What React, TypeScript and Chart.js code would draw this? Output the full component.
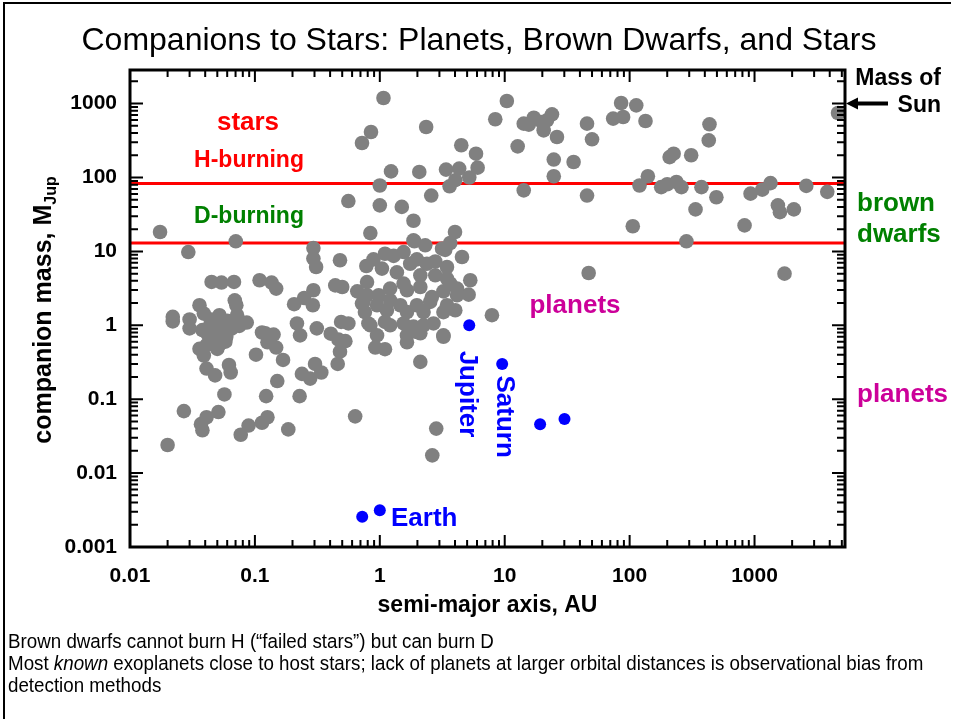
import React, { useEffect, useRef } from "react";
import { Chart, registerables } from "chart.js";

Chart.register(...registerables);

const FONT = '"Liberation Sans", Arial, Helvetica, sans-serif';

// Known companions: semi-major axis (AU) and mass (Jupiter masses)
const companionAU = [
  1.07, 0.85, 0.72, 2.35, 4.49, 5.89, 1.23, 2.07, 3.39, 4.32, 6.07, 5.2, 3.62, 4.02, 1.0, 2.58, 1.0, 1.5, 1.86, 0.84,
  1.86, 4.0, 3.66, 2.31, 3.15, 4.55, 10.4, 8.4, 12.7, 14.2, 15.6, 17.1, 19.9, 23.9, 21.8, 20.5, 26.2, 24.7, 24.7, 35.6,
  14.2, 45.6, 50, 45.6, 47, 85.5, 113, 73.8, 88.7, 134, 436, 430, 209, 225, 311, 140, 120, 179, 200, 237,
  260, 376, 495, 337, 106, 285, 929, 1153, 1343, 832, 1538, 1597, 2065, 2596, 3823, 1738, 4660, 0.56, 0.0174, 0.0293,
  0.0703, 0.294, 0.294, 0.309, 0.045, 0.054, 0.068, 0.109, 0.136, 0.148, 0.294, 0.248, 0.206, 0.291, 0.069, 0.071, 0.036, 0.039, 0.052, 0.022,
  0.022, 0.03, 0.03, 0.072, 0.072, 0.086, 0.075, 0.044, 0.048, 0.038, 0.059, 0.114, 0.141, 0.217, 0.23, 0.313, 0.036, 0.041, 0.05, 0.039,
  0.041, 0.048, 0.062, 0.064, 0.057, 0.102, 0.121, 0.126, 0.148, 0.168, 0.151, 0.123, 0.238, 0.277, 0.303, 0.228, 0.027, 0.041, 0.037, 0.038,
  0.051, 0.089, 0.077, 0.114, 0.126, 0.185, 0.02, 0.635, 0.045, 0.05, 0.055, 0.042, 0.048, 0.06, 0.065, 0.052, 0.044, 0.058, 0.405, 0.467,
  0.53, 0.49, 0.56, 0.48, 0.46, 0.34, 0.81, 0.72, 0.79, 0.48, 0.44, 0.5, 0.66, 0.78, 0.89, 1.04, 1.1, 1.29, 1.55, 1.37,
  1.75, 1.98, 1.89, 2.38, 2.78, 3.45, 3.34, 2.11, 2.78, 3.45, 3.67, 5.3, 5.14, 4.15, 4.15, 3.23, 2.61, 2.11, 1.65, 1.55,
  1.21, 0.98, 0.79, 0.74, 0.76, 0.95, 1.14, 1.1, 1.21, 1.46, 1.65, 1.98, 2.24, 2.53, 3.23, 3.45, 4.02, 0.84, 1.21, 1.55,
  1.86, 2.24, 2.69, 3.23, 0.95, 1.65, 1.98, 0.92, 1.1, 1.65, 2.11, 3.23, 2.11, 2.83, 2.63, 7.9,
];
const companionMass = [
  1190, 413, 293, 482, 273, 210, 121, 119, 128, 132, 136, 100, 76, 92, 78, 57, 42, 40, 26, 17.7,
  14.1, 18.3, 13, 12.1, 10.9, 8.4, 1085, 614, 264, 536, 520, 645, 564, 716, 594, 435, 353, 175, 104, 162,
  67, 536, 329, 57, 5.1, 1019, 948, 627, 659, 582, 525, 318, 189, 210, 200, 104, 78, 74, 81, 87,
  74, 74, 54, 37, 21.9, 13.7, 60.5, 68.5, 84, 22.5, 42, 34, 37, 77, 64, 5.0, 747, 48, 18.3, 9.8,
  13.7, 11.1, 8.0, 6.15, 3.86, 3.79, 3.86, 4.07, 3.79, 3.14, 2.98, 2.34, 1.93, 1.87, 2.18, 1.87, 1.87, 1.44, 1.37, 1.3,
  1.13, 1.2, 0.91, 1.37, 1.06, 1.09, 0.98, 1.04, 0.91, 0.86, 0.7, 0.8, 0.75, 1.06, 0.73, 0.91, 0.48, 0.54, 0.48, 0.39,
  0.26, 0.21, 0.29, 0.23, 0.116, 0.4, 0.78, 0.59, 0.5, 0.34, 0.176, 0.11, 0.22, 0.19, 0.3, 0.11, 0.069, 0.057, 0.046, 0.038,
  0.067, 0.044, 0.033, 0.048, 0.057, 0.039, 0.024, 0.0586, 1.2, 1.0, 0.85, 0.75, 0.62, 1.15, 0.9, 0.55, 0.65, 0.6, 0.77, 0.64,
  0.61, 1.11, 1.06, 0.44, 0.3, 0.23, 1.06, 1.97, 3.85, 7.6, 3.47, 3.3, 2.88, 6.34, 7.8, 5.85, 9.3, 8.7, 9.8, 5.2,
  6.8, 7.8, 13.7, 6.8, 7.3, 6.15, 10.5, 4.75, 4.75, 4.29, 3.66, 4.07, 2.6, 3.14, 2.55, 2.88, 2.41, 3.3, 2.98, 3.66,
  3.14, 2.55, 2.55, 2.07, 1.51, 1.87, 1.6, 1.11, 2.18, 1.87, 1.51, 1.87, 1.51, 2.07, 1.51, 1.87, 1.6, 1.0, 1.0, 1.06,
  0.96, 1.0, 1.06, 0.73, 0.73, 0.73, 0.81, 0.5, 0.475, 0.59, 0.78, 0.7, 0.32, 0.04, 0.0174, 1.37,
];

// Solar-system planets: Venus, Earth, Jupiter, Saturn, Uranus, Neptune
const solarPlanetAU = [0.723, 1.0, 5.2, 9.54, 19.2, 30.1];
const solarPlanetMass = [0.00256, 0.00315, 1.0, 0.299, 0.0457, 0.054];

// Mass limits (M_Jup)
const hydrogenBurningLimit = 83;
const deuteriumBurningLimit = 13;
const sunMass = 1000;

const xRange = [0.01, 5300];
const yRange = [0.001, 2850];
const xTickLabels = ["0.01", "0.1", "1", "10", "100", "1000"]; // 10^-2 .. 10^3
const yTickLabels = ["0.001", "0.01", "0.1", "1", "10", "100", "1000"]; // 10^-3 .. 10^3

const noteLines = [
  "Brown dwarfs cannot burn H (\u201cfailed stars\u201d) but can burn D",
  "lack of planets at larger orbital distances is observational bias from",
  "detection methods",
];

function decadeLabel(value: number, labels: string[], minExp: number) {
  const l = Math.log10(value);
  const e = Math.round(l);
  if (Math.abs(l - e) > 1e-6) return "";
  return labels[e - minExp] ?? "";
}

function niceTick(value: number) {
  const e = Math.floor(Math.log10(value) + 1e-9);
  const s = value / Math.pow(10, e);
  return { nice: Math.abs(s - Math.round(s)) < 1e-6, major: Math.abs(s - 1) < 1e-6 };
}

const axesFrame = {
  id: "axesFrame",
  afterDatasetsDraw(chart: any) {
    const { ctx, chartArea, scales } = chart;
    const { left, right, top, bottom } = chartArea;
    ctx.save();
    ctx.strokeStyle = "#000";
    ctx.lineWidth = 2;
    ctx.beginPath();
    for (const t of scales.x.ticks) {
      const { nice, major } = niceTick(t.value);
      if (!nice) continue;
      const px = scales.x.getPixelForValue(t.value);
      if (px < left + 3 || px > right - 3) continue;
      const len = major ? 12 : 7;
      ctx.moveTo(px, bottom);
      ctx.lineTo(px, bottom - len);
      ctx.moveTo(px, top);
      ctx.lineTo(px, top + len);
    }
    for (const t of scales.y.ticks) {
      const { nice, major } = niceTick(t.value);
      if (!nice) continue;
      const py = scales.y.getPixelForValue(t.value);
      if (py < top + 3 || py > bottom - 3) continue;
      const len = major ? 13 : 8;
      ctx.moveTo(left, py);
      ctx.lineTo(left + len, py);
      ctx.moveTo(right, py);
      ctx.lineTo(right - len, py);
    }
    ctx.stroke();
    ctx.lineWidth = 3;
    ctx.strokeRect(left, top, right - left, bottom - top);
    ctx.restore();
  },
};

function text(ctx: any, s: string, x: number, y: number, font: string, color: string, align = "center") {
  ctx.font = font;
  ctx.fillStyle = color;
  ctx.textAlign = align;
  ctx.textBaseline = "alphabetic";
  ctx.fillText(s, x, y);
}

const labelsPlugin = {
  id: "labelsPlugin",
  afterDraw(chart: any) {
    const { ctx, chartArea, scales } = chart;
    const { left, right } = chartArea;
    const b = (px: number) => `bold ${px}px ${FONT}`;
    ctx.save();

    text(ctx, "Companions to Stars: Planets, Brown Dwarfs, and Stars", 479, 50, `32px ${FONT}`, "#000");

    text(ctx, "semi-major axis, AU", (left + right) / 2, 612, b(23), "#000");

    // y-axis title with subscript
    ctx.save();
    ctx.translate(51, 310);
    ctx.rotate(-Math.PI / 2);
    ctx.font = b(25);
    const main = "companion mass, M";
    const mainW = ctx.measureText(main).width;
    ctx.font = b(16);
    const subW = ctx.measureText("Jup").width;
    const start = -(mainW + subW) / 2;
    text(ctx, main, start, 0, b(25), "#000", "left");
    text(ctx, "Jup", start + mainW, 5, b(16), "#000", "left");
    ctx.restore();

    // region labels
    text(ctx, "stars", 248, 130, b(26), "#ff0000");
    text(ctx, "H-burning", 249, 167, b(23), "#ff0000");
    text(ctx, "D-burning", 249, 223, b(23), "#008000");
    text(ctx, "planets", 575, 313, b(26), "#cc0099");
    text(ctx, "brown", 857, 211, b(26), "#008000", "left");
    text(ctx, "dwarfs", 857, 242, b(26), "#008000", "left");
    text(ctx, "planets", 857, 402, b(26), "#cc0099", "left");
    text(ctx, "Mass of", 941, 85, b(23), "#000", "right");
    text(ctx, "Sun", 941, 112, b(23), "#000", "right");

    // arrow to the Sun's mass on the right axis
    const sy = scales.y.getPixelForValue(sunMass);
    ctx.strokeStyle = "#000";
    ctx.fillStyle = "#000";
    ctx.lineWidth = 4;
    ctx.beginPath();
    ctx.moveTo(right + 10, sy);
    ctx.lineTo(right + 43, sy);
    ctx.stroke();
    ctx.beginPath();
    ctx.moveTo(right + 1, sy);
    ctx.lineTo(right + 13, sy - 6);
    ctx.lineTo(right + 13, sy + 6);
    ctx.closePath();
    ctx.fill();

    // solar-system planet names
    text(ctx, "Earth", 391, 526, b(26), "#0000ff", "left");
    const vertical = (s: string, cx: number, cy: number) => {
      ctx.save();
      ctx.translate(cx, cy);
      ctx.rotate(Math.PI / 2);
      ctx.font = b(26);
      ctx.fillStyle = "#0000ff";
      ctx.textAlign = "center";
      ctx.textBaseline = "middle";
      ctx.fillText(s, 0, 0);
      ctx.restore();
    };
    vertical("Jupiter", 467.5, 394);
    vertical("Saturn", 503.7, 416.7);

    ctx.restore();
  },
};

export default function App() {
  const ref = useRef<HTMLCanvasElement | null>(null);

  useEffect(() => {
    if (!ref.current) return;
    const companions = companionAU.map((a, i) => ({ x: a, y: companionMass[i] }));
    const solar = solarPlanetAU.map((a, i) => ({ x: a, y: solarPlanetMass[i] }));
    const tickFont = { family: FONT, size: 21, weight: "bold" as const };

    const chart = new Chart(ref.current, {
      type: "scatter",
      data: {
        datasets: [
          {
            type: "line",
            data: [
              { x: xRange[0], y: hydrogenBurningLimit },
              { x: xRange[1], y: hydrogenBurningLimit },
            ],
            borderColor: "#ff0000",
            borderWidth: 3,
            pointRadius: 0,
            order: 4,
          },
          {
            type: "line",
            data: [
              { x: xRange[0], y: deuteriumBurningLimit },
              { x: xRange[1], y: deuteriumBurningLimit },
            ],
            borderColor: "#ff0000",
            borderWidth: 3,
            pointRadius: 0,
            order: 3,
          },
          {
            data: companions,
            backgroundColor: "#808080",
            borderWidth: 0,
            pointRadius: 7.3,
            order: 2,
          },
          {
            data: solar,
            backgroundColor: "#0000ff",
            borderWidth: 0,
            pointRadius: 6,
            order: 1,
          },
        ],
      } as any,
      options: {
        animation: false,
        responsive: false,
        events: [],
        layout: { padding: { left: 0, right: 109, top: 70, bottom: 132 } },
        plugins: { legend: { display: false }, tooltip: { enabled: false }, title: { display: false } },
        scales: {
          x: {
            type: "logarithmic",
            min: xRange[0],
            max: xRange[1],
            border: { display: false },
            grid: { display: false, drawTicks: false },
            ticks: {
              autoSkip: false,
              maxRotation: 0,
              padding: 17,
              color: "#000",
              font: tickFont,
              callback: (v: any) => decadeLabel(Number(v), xTickLabels, -2),
            },
            afterFit: (s: any) => {
              s.height = 40;
            },
          },
          y: {
            type: "logarithmic",
            min: yRange[0],
            max: yRange[1],
            border: { display: false },
            grid: { display: false, drawTicks: false },
            ticks: {
              autoSkip: false,
              padding: 13,
              color: "#000",
              font: tickFont,
              callback: (v: any) => decadeLabel(Number(v), yTickLabels, -3),
            },
            afterFit: (s: any) => {
              s.width = 130;
            },
          },
        },
      } as any,
      plugins: [axesFrame, labelsPlugin],
    });
    return () => chart.destroy();
  }, []);

  return (
    <div
      style={{
        position: "fixed",
        left: 0,
        top: 0,
        width: 954,
        height: 719,
        background: "#fff",
        overflow: "hidden",
        fontFamily: FONT,
      }}
    >
      <div style={{ position: "absolute", left: 3, top: 2, width: 948, height: 2, background: "#000" }} />
      <div style={{ position: "absolute", left: 3, top: 2, width: 2, height: 717, background: "#000" }} />
      <canvas ref={ref} width={954} height={719} style={{ position: "absolute", left: 0, top: 0 }} />
      <div
        style={{
          position: "absolute",
          left: 8,
          top: 630,
          fontSize: 20.5,
          lineHeight: "22px",
          color: "#000",
          whiteSpace: "nowrap",
          transform: "scaleX(0.915)",
          transformOrigin: "0 0",
        }}
      >
        <div>{noteLines[0]}</div>
        <div>
          Most <i>known</i> exoplanets close to host stars; {noteLines[1]}
        </div>
        <div>{noteLines[2]}</div>
      </div>
    </div>
  );
}
